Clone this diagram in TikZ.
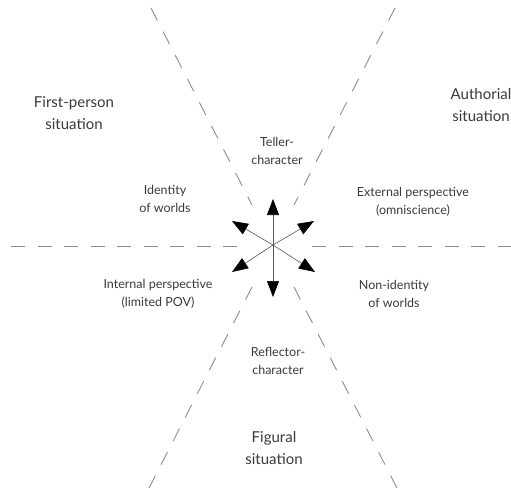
\documentclass[tikz,border=0pt]{standalone}
\usepackage{fontspec}
\setmainfont{Lato}
\usetikzlibrary{arrows.meta}
\definecolor{txt}{HTML}{3A3A3A}
\definecolor{dashgray}{HTML}{8C8C8C}
\definecolor{shaft}{HTML}{555555}
\begin{document}
\begin{tikzpicture}[x=1pt,y=-1pt,
  sector/.style={text=txt,align=center,font=\fontsize{15}{22.5}\selectfont},
  pole/.style={text=txt,align=center,font=\fontsize{12.5}{18.5}\selectfont},
  axis/.style={draw=dashgray,line width=0.9pt,dash pattern=on 14pt off 12.5pt},
  ray/.style={draw=shaft,line width=0.6pt,-{Triangle[length=16pt,width=12pt,color=black,fill=black]}}]
\useasboundingbox (0,0) rectangle (511,487);
% centre
\coordinate (c) at (273,245);
% dashed axes
\coordinate (hl1) at (11,246);
\coordinate (hl2) at (238,246);
\coordinate (hr1) at (312,246);
\coordinate (hr2) at (520,246);
\coordinate (tl1) at (151,8);
\coordinate (tl2) at (252,205);
\coordinate (tr1) at (395,8);
\coordinate (tr2) at (294,205);
\coordinate (bl1) at (252,287);
\coordinate (bl2) at (147,492);
\coordinate (br1) at (294,287);
\coordinate (br2) at (399,492);
\draw[axis] (hl1) -- (hl2);
\draw[axis] (hr1) -- (hr2);
\draw[axis] (tl1) -- (tl2);
\draw[axis] (tr1) -- (tr2);
\draw[axis] (bl1) -- (bl2);
\draw[axis] (br1) -- (br2);
% arrow tips
\coordinate (up) at (273,199);
\coordinate (dn) at (273,297);
\coordinate (ul) at (232,221);
\coordinate (ur) at (314,221);
\coordinate (dl) at (232,272);
\coordinate (dr) at (315,272);
\foreach \t in {up,dn,ul,ur,dl,dr} \draw[ray] (c) -- (\t);
% sector labels
\node[sector] (fp) at (74,113) {First-person\\situation};
\node[sector] (au) at (481,105) {Authorial\\situation};
\node[sector] (fi) at (274,448) {Figural\\situation};
% pole labels
\node[pole] (tc) at (277,151) {Teller-\\character};
\node[pole] (rc) at (278,361) {Reflector-\\character};
\node[pole] (iw) at (165,199) {Identity\\of worlds};
\node[pole] (ni) at (394,294) {Non-identity\\of worlds};
\node[pole] (ep) at (413,202) {External perspective\\(omniscience)};
\node[pole] (ip) at (158,294) {Internal perspective\\(limited POV)};
\end{tikzpicture}
\end{document}
